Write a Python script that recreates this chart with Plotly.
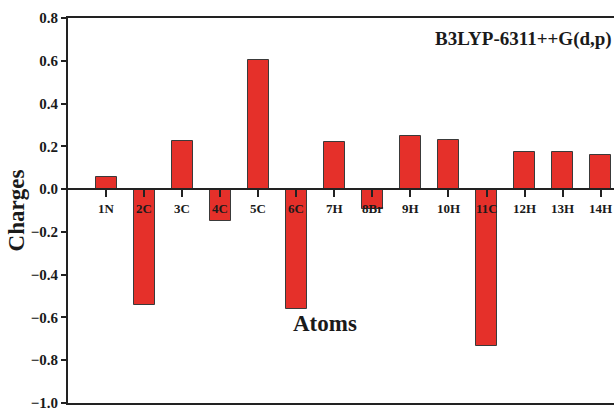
import plotly.graph_objects as go

atoms = ["1N", "2C", "3C", "4C", "5C", "6C", "7H", "8Br", "9H", "10H", "11C", "12H", "13H", "14H"]
charges = [0.055, -0.540, 0.225, -0.150, 0.605, -0.562, 0.220, -0.092, 0.250, 0.228, -0.735, 0.172, 0.172, 0.158]
yticks = [-1.0, -0.8, -0.6, -0.4, -0.2, 0.0, 0.2, 0.4, 0.6, 0.8]

positions = list(range(1, len(atoms) + 1))
FONT = "Liberation Serif, Times New Roman, serif"

fig = go.Figure()
fig.add_trace(go.Bar(
    x=positions, y=charges, width=0.55,
    marker=dict(color="#E5302A", line=dict(color="#3a3a3a", width=1)),
    showlegend=False,
))
# zero-line axis with ticks
fig.add_trace(go.Scatter(x=[positions[0]], y=[0], xaxis="x2", mode="markers",
                         marker=dict(opacity=0), showlegend=False, hoverinfo="skip"))

ymin, ymax = -1.0, 0.8
zero_pos = (0 - ymin) / (ymax - ymin)

fig.update_layout(
    width=614, height=411,
    margin=dict(l=68, r=0, t=18, b=0),
    paper_bgcolor="white", plot_bgcolor="white",
    font=dict(family=FONT, color="#1a1a1a"),
    bargap=0,
    xaxis=dict(range=[0, 14.35], showline=True, linecolor="#222", linewidth=2, mirror=True,
               ticks="", showticklabels=False, showgrid=False, zeroline=False),
    xaxis2=dict(range=[0, 14.35], overlaying="x", anchor="free", position=zero_pos,
                showline=True, linecolor="#222", linewidth=2, ticks="outside", ticklen=7,
                tickwidth=2, tickcolor="#222", tickvals=positions, showticklabels=False,
                showgrid=False, zeroline=False),
    yaxis=dict(range=[ymin, ymax], tickvals=yticks, tickformat=".1f",
               showline=True, linecolor="#222", linewidth=2, ticks="outside", ticklen=5,
               tickwidth=2, tickcolor="#222", showgrid=False, zeroline=False,
               ticklabeloverflow="allow",
               tickfont=dict(family=FONT, size=15, color="#1a1a1a", weight="bold"),
               title=dict(text="<b>Charges</b>", standoff=0,
                          font=dict(family=FONT, size=23, color="#1a1a1a"))),
)

for pos, name in zip(positions, atoms):
    fig.add_annotation(x=pos, y=-0.09, text=f"<b>{name}</b>", showarrow=False,
                       font=dict(family=FONT, size=13, color="#1a1a1a"))

fig.add_annotation(x=6.75, y=-0.63, text="<b>Atoms</b>", showarrow=False,
                   font=dict(family=FONT, size=23, color="#1a1a1a"))
fig.add_annotation(x=1.0, xref="paper", xanchor="right", y=0.70, text="<b>B3LYP-6311++G(d,p)</b>",
                   showarrow=False, font=dict(family=FONT, size=19, color="#1a1a1a"))

fig.write_html("out.html", config={"displayModeBar": False},
               post_script="document.body.style.margin='0';document.body.style.overflow='hidden';")
